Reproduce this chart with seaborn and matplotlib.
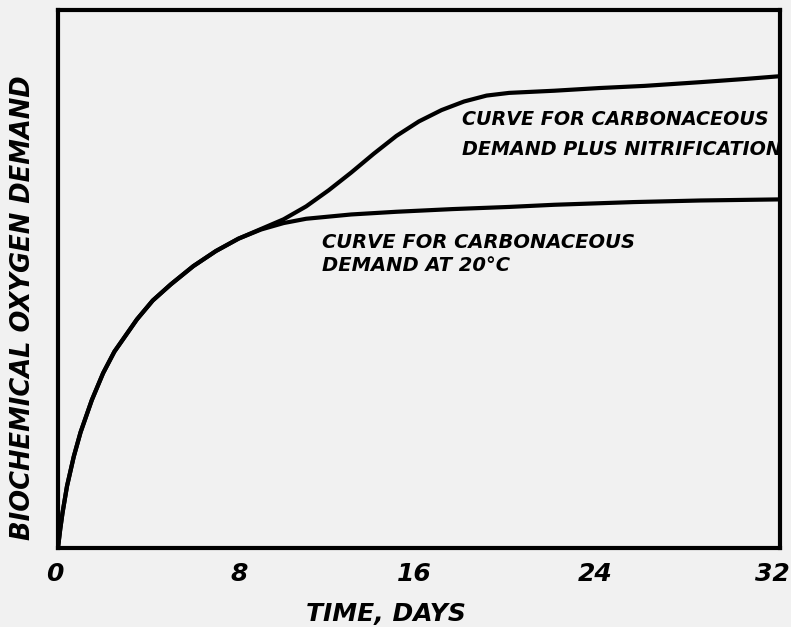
import matplotlib
matplotlib.use("Agg")
import matplotlib.pyplot as plt
import matplotlib.transforms as mtransforms
import seaborn as sns
import pandas as pd

# Values (arbitrary BOD units, 0-100 = axis height)
carb_days = [0, 0.1, 0.2, 0.4, 0.7, 1.0, 1.5, 2.0, 2.5, 3.0, 3.5, 4.2, 5.0, 6.0,
             7.0, 8.0, 9.0, 10.0, 11.0, 13.0, 15.0, 17.5, 20.0, 22.0, 25.5, 28.5, 32.0]
carb_vals = [0, 3.5, 6.5, 11.5, 17, 21.5, 27.5, 32.5, 36.5, 39.5, 42.5, 46, 49, 52.4,
             55.2, 57.5, 59.2, 60.4, 61.2, 62, 62.5, 63, 63.4, 63.8, 64.3, 64.6, 64.8]

nitr_days = [0, 0.1, 0.2, 0.4, 0.7, 1.0, 1.5, 2.0, 2.5, 3.0, 3.5, 4.2, 5.0, 6.0,
             7.0, 8.0, 9.0, 10.0, 11.0, 12.0, 13.0, 14.0, 15.0, 16.0, 17.0, 18.0,
             19.0, 20.0, 21.0, 22.0, 24.0, 26.0, 28.5, 30.5, 32.0]
nitr_vals = [0, 3.5, 6.5, 11.5, 17, 21.5, 27.5, 32.5, 36.5, 39.5, 42.5, 46, 49, 52.4,
             55.2, 57.5, 59.3, 61.1, 63.5, 66.5, 69.8, 73.3, 76.6, 79.3, 81.4, 83.0,
             84.1, 84.6, 84.8, 85.0, 85.5, 85.9, 86.6, 87.2, 87.7]

x_ticks = [0, 8, 16, 24, 32]
x_label = "TIME, DAYS"
y_label = "BIOCHEMICAL OXYGEN DEMAND"
label_nitr = "CURVE FOR CARBONACEOUS\nDEMAND PLUS NITRIFICATION"
label_carb = "CURVE FOR CARBONACEOUS\nDEMAND AT 20°C"

sns.set_theme(style="white")
plt.rcParams["font.family"] = ["DejaVu Sans"]

bg = "#f1f1f1"
fig = plt.figure(figsize=(7.91, 6.27), dpi=100, facecolor=bg)
ax = fig.add_axes([0.0733, 0.126, 0.9127, 0.858])
ax.set_facecolor(bg)

df_c = pd.DataFrame({"day": carb_days, "bod": carb_vals})
df_n = pd.DataFrame({"day": nitr_days, "bod": nitr_vals})
sns.lineplot(data=df_n, x="day", y="bod", ax=ax, color="black", lw=3.0, sort=False)
sns.lineplot(data=df_c, x="day", y="bod", ax=ax, color="black", lw=3.0, sort=False)

ax.set_xlim(0, 32)
ax.set_ylim(0, 100)
ax.set_xticks(x_ticks)
ax.set_xticklabels([str(t) for t in x_ticks])
ax.set_yticks([])
ax.tick_params(axis="x", length=0, pad=10)
shifts = [-3, 1, -5, -4, -8]
for lab, dx in zip(ax.get_xticklabels(), shifts):
    lab.set_fontsize(18)
    lab.set_fontweight("bold")
    lab.set_fontstyle("italic")
    lab.set_color("black")
    lab.set_transform(lab.get_transform() +
                      mtransforms.ScaledTranslation(dx / 100, 0, fig.dpi_scale_trans))

ax.set_xlabel(x_label, fontsize=18, fontweight="bold", fontstyle="italic",
              color="black")
ax.xaxis.set_label_coords(0.454, -0.100)
ax.set_ylabel(y_label, fontsize=18.5, fontweight="bold", fontstyle="italic",
              color="black")
ax.yaxis.set_label_coords(-0.030, 0.447)

for s in ax.spines.values():
    s.set_visible(True)
    s.set_color("black")
    s.set_linewidth(3.0)

ax.text(17.9, 81.5, label_nitr, fontsize=13.8, fontweight="bold", fontstyle="italic",
        va="top", ha="left", linespacing=1.75, color="black")
ax.text(11.7, 58.6, label_carb, fontsize=14, fontweight="bold", fontstyle="italic",
        va="top", ha="left", linespacing=1.3, color="black")

if ax.get_legend():
    ax.get_legend().remove()

fig.savefig("out.png", dpi=100, facecolor=bg)
